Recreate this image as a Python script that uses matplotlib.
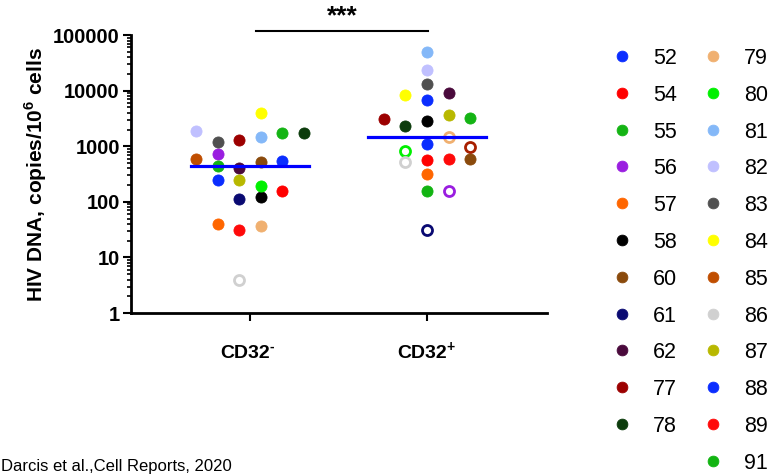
import numpy as np
import matplotlib
matplotlib.use('Agg')
import matplotlib.pyplot as plt
import matplotlib.transforms as mtransforms

plt.rcParams['font.family'] = ['Liberation Sans', 'DejaVu Sans']
plt.rcParams['mathtext.fontset'] = 'custom'
plt.rcParams['mathtext.rm'] = 'Liberation Sans'
plt.rcParams['mathtext.bf'] = 'Liberation Sans:bold'

# patient ids and colours (legend order)
patients = ['52', '54', '55', '56', '57', '58', '60', '61', '62', '77', '78',
            '79', '80', '81', '82', '83', '84', '85', '86', '87', '88', '89', '91']
colors = ['#0a2dff', '#ff0000', '#14b414', '#9a1ee0', '#ff6600', '#000000',
          '#8a4a0c', '#0a0a72', '#4a0a3c', '#9c0000', '#0c3c0c',
          '#f0b070', '#00f000', '#84b8f8', '#c0c0ff', '#505050', '#ffff00',
          '#c04e00', '#d0d0d0', '#b8b800', '#0a2dff', '#ff0a0a', '#12b412']
ring_colors = {'85': '#a82000'}

# HIV DNA copies / 10^6 cells
neg_values = [550, 158, 1700, 730, 40, 122, 530, 112, 400, 1300, 1700,
              37, 195, 1450, 1900, 1200, 4000, 600, 3.9, 245, 245, 31, 450]
pos_values = [6800, 570, 3250, 160, 320, 2850, 585, 31.6, 9100, 3050, 2300,
              1440, 830, 50000, 24000, 13000, 8500, 980, 515, 3650, 1100, 585, 155]
# jitter slot of each point inside its group
neg_slot = [1.5, 1.5, 1.5, -1.5, -1.5, 0.5, 0.5, -0.5, -0.5, -0.5, 2.5,
            0.5, 0.5, 0.5, -2.5, -1.5, 0.5, -2.5, -0.5, -0.5, -1.5, -0.5, -1.5]
pos_slot = [0, 0, 2, 1, 0, 0, 2, 0, 1, -2, -1,
            1, -1, 0, 0, 0, -1, 2, -1, 1, 0, 1, 0]
neg_open = ['86']
pos_open = ['79', '85', '80', '86', '56', '61']

group_names = ['CD32', 'CD32']
group_sup = ['-', '+']

fig = plt.figure(figsize=(7.75, 4.75), dpi=100)
ax = fig.add_axes([0.169, 0.341, 0.537, 0.585])

step = 0.122
for gi, (vals, slots, opens) in enumerate([(neg_values, neg_slot, neg_open),
                                           (pos_values, pos_slot, pos_open)]):
    for p, c, v, s in zip(patients, colors, vals, slots):
        x = gi + s * step
        if p in opens:
            ax.scatter(x, v, s=52, facecolor='white',
                       edgecolor=ring_colors.get(p, c), linewidth=2.0, zorder=3)
        else:
            ax.scatter(x, v, s=64, color=c, edgecolor=c, linewidth=0.6, zorder=3)
    med = np.median(vals)
    ax.plot([gi - 0.335, gi + 0.335], [med, med], color='#0000ff', lw=2.3, zorder=4)

ax.set_yscale('log')
ax.set_ylim(1, 100000)
ax.set_xlim(-0.672, 1.678)
ax.set_yticks([1, 10, 100, 1000, 10000, 100000])
ax.set_yticklabels(['1', '10', '100', '1000', '10000', '100000'])
for lab in ax.get_yticklabels():
    lab.set_fontweight('bold')
    lab.set_fontsize(14.5)
ax.set_xticks([0, 1])
ax.set_xticklabels([])
ax.tick_params(axis='y', which='major', length=6, width=1.5, pad=2)
ax.tick_params(axis='y', which='minor', length=3, width=1.2)
ax.tick_params(axis='x', length=6, width=1.5)
for side in ['top', 'right']:
    ax.spines[side].set_visible(False)
for side in ['left', 'bottom']:
    ax.spines[side].set_linewidth(2)
ax.set_ylabel('HIV DNA, copies/10$^{\\mathbf{6}}$ cells', fontsize=15,
              fontweight='bold', labelpad=3)

# group labels with small superscript sign
renderer = fig.canvas.get_renderer()
trans = mtransforms.blended_transform_factory(ax.transData, ax.transAxes)
for gi, (name, sup) in enumerate(zip(group_names, group_sup)):
    t = ax.text(gi - 0.03, -0.145, name, transform=trans, ha='center', va='center',
                fontsize=14, fontweight='bold')
    bb = t.get_window_extent(renderer=renderer)
    x_end, y_top = fig.transFigure.inverted().transform((bb.x1, bb.y1))
    fig.text(x_end, y_top - 0.005, sup, ha='left', va='center',
             fontsize=10, fontweight='bold')

# significance bar
ax.plot([0.034, 1.006], [10 ** 5.07, 10 ** 5.07], color='black', lw=1.5,
        clip_on=False)
ax.text(0.52, 10 ** 5.13, '***', ha='center', va='bottom', fontsize=19,
        fontweight='bold')

# legend drawn by hand in pixel coords
lg = fig.add_axes([0, 0, 1, 1])
lg.set_xlim(0, 775)
lg.set_ylim(475, 0)
lg.axis('off')
row_h = 36.8
for i, (p, c) in enumerate(zip(patients, colors)):
    col = 0 if i < 11 else 1
    row = i if i < 11 else i - 11
    mx = 622 if col == 0 else 713
    y = 56 + row * row_h
    lg.scatter(mx, y, s=60, color=c, edgecolor=c, linewidth=0.6)
    lg.text(mx + 31, y, p, fontsize=15.5, va='center_baseline', ha='left')

lg.text(1, 466, 'Darcis et al.,Cell Reports, 2020', fontsize=12,
        va='center', ha='left')

fig.savefig('out.png', dpi=100)
